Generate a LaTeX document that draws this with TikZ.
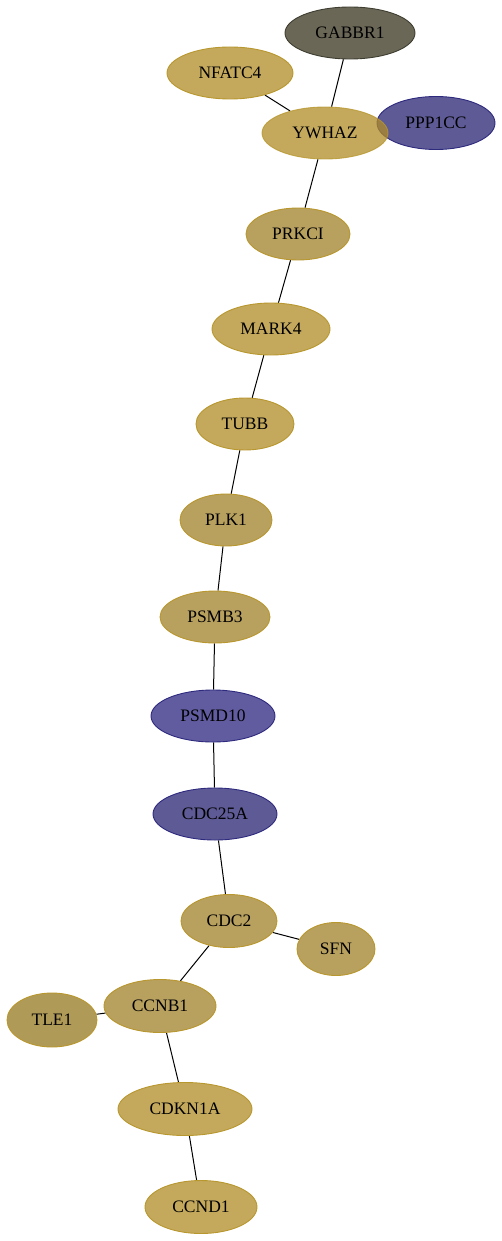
\documentclass[tikz,border=0pt]{standalone}
\usepackage{fontspec}
\setmainfont{Liberation Serif}
\usetikzlibrary{shapes.geometric,backgrounds}
\definecolor{goldA}{HTML}{C4A95C}
\definecolor{goldT}{HTML}{B08C26}
\definecolor{goldB}{HTML}{B8A05E}
\definecolor{goldC}{HTML}{B09A58}
\definecolor{goldE}{HTML}{B8972E}
\definecolor{greyA}{HTML}{6A6757}
\definecolor{greyE}{HTML}{3E3D30}
\definecolor{blueA}{HTML}{5E5A96}
\definecolor{blueD}{HTML}{615CA0}
\definecolor{blueE}{HTML}{2E2A7E}
\tikzset{
  gene/.style={ellipse, draw, line width=0.9pt, inner sep=0pt,
    font=\fontsize{17.5}{20}\selectfont},
  gold/.style={gene, fill=goldA, draw=goldE},
  goldb/.style={gene, fill=goldB, draw=goldE},
  goldc/.style={gene, fill=goldC, draw=goldE},
  grey/.style={gene, fill=greyA, draw=greyE},
  blue/.style={gene, fill=blueA, draw=blueE},
  seethrough/.style={fill=goldT, fill opacity=0.75, draw opacity=0.8, text opacity=1},
  link/.style={line width=1pt, black}
}
\begin{document}
\begin{tikzpicture}[x=1pt,y=-1pt]
\useasboundingbox (0,0) rectangle (501,1241);
\node[grey, minimum width=130, minimum height=52] (GABBR1) at (350,33) {GABBR1};
\node[gold, minimum width=126, minimum height=52] (NFATC4) at (230,73) {NFATC4};
\node[blue, minimum width=118, minimum height=53] (PPP1CC) at (436,123) {PPP1CC};
\node[gold, seethrough, minimum width=126, minimum height=52] (YWHAZ) at (325,133) {YWHAZ};
\node[goldb, minimum width=104, minimum height=52] (PRKCI) at (298,234) {PRKCI};
\node[gold, minimum width=118, minimum height=52] (MARK4) at (271,329) {MARK4};
\node[gold, minimum width=98, minimum height=52] (TUBB) at (245,424) {TUBB};
\node[goldb, minimum width=92, minimum height=52] (PLK1) at (226,520) {PLK1};
\node[goldb, minimum width=110, minimum height=52] (PSMB3) at (215,617) {PSMB3};
\node[blue, fill=blueD, minimum width=124, minimum height=52] (PSMD10) at (213,716) {PSMD10};
\node[blue, minimum width=124, minimum height=52] (CDC25A) at (215,814) {CDC25A};
\node[goldb, minimum width=96, minimum height=53] (CDC2) at (229,921) {CDC2};
\node[goldb, minimum width=78, minimum height=53] (SFN) at (336,949) {SFN};
\node[goldb, minimum width=112, minimum height=53] (CCNB1) at (160,1006) {CCNB1};
\node[goldc, minimum width=90, minimum height=54] (TLE1) at (52,1020) {TLE1};
\node[gold, minimum width=134, minimum height=53] (CDKN1A) at (185,1109) {CDKN1A};
\node[gold, minimum width=112, minimum height=53] (CCND1) at (201,1207) {CCND1};
\begin{pgfonlayer}{background}
\draw[link] (GABBR1) -- (YWHAZ);
\draw[link] (NFATC4) -- (YWHAZ);
\draw[link] (YWHAZ) -- (PRKCI);
\draw[link] (PRKCI) -- (MARK4);
\draw[link] (MARK4) -- (TUBB);
\draw[link] (TUBB) -- (PLK1);
\draw[link] (PLK1) -- (PSMB3);
\draw[link] (PSMB3) -- (PSMD10);
\draw[link] (PSMD10) -- (CDC25A);
\draw[link] (CDC25A) -- (CDC2);
\draw[link] (CDC2) -- (SFN);
\draw[link] (CDC2) -- (CCNB1);
\draw[link] (CCNB1) -- (TLE1);
\draw[link] (CCNB1) -- (CDKN1A);
\draw[link] (CDKN1A) -- (CCND1);
\end{pgfonlayer}
\end{tikzpicture}
\end{document}
